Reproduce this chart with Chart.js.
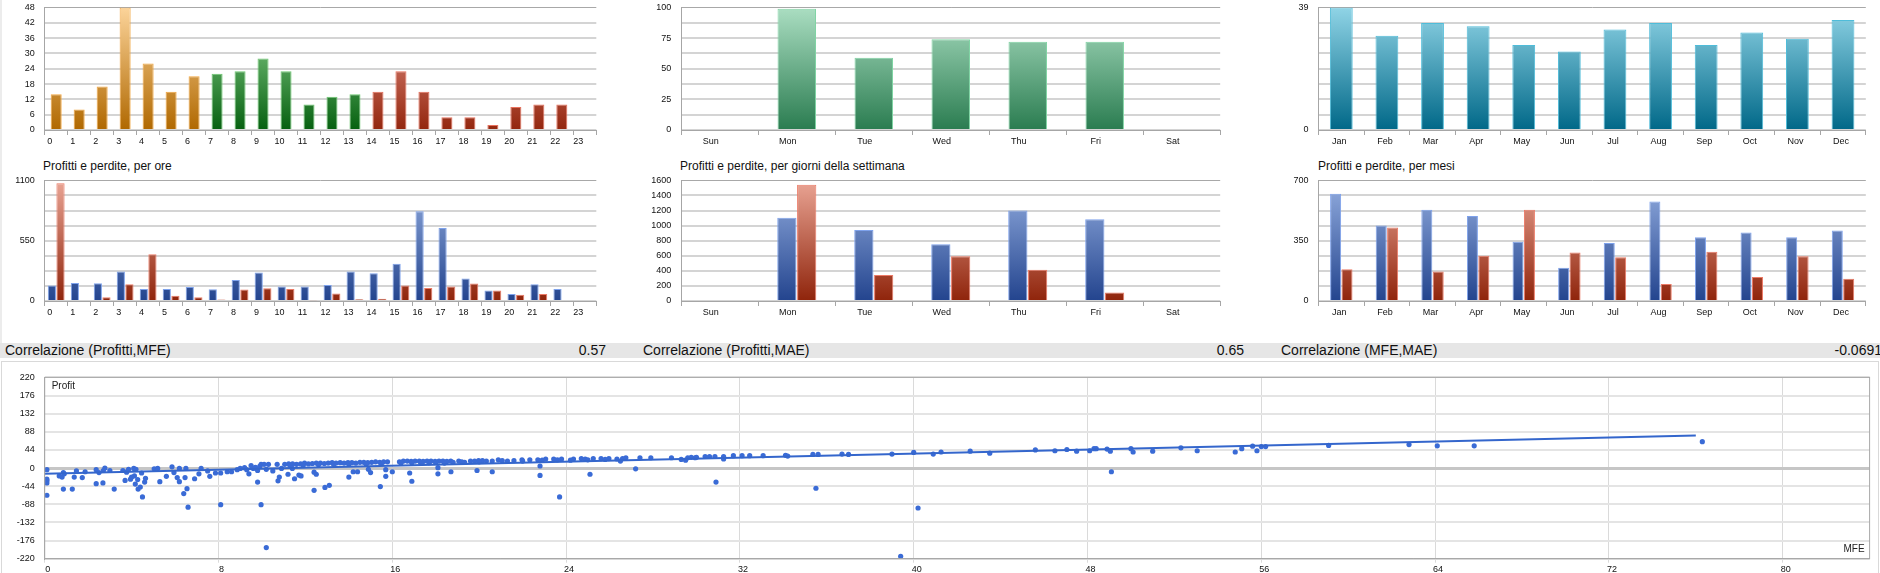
<!DOCTYPE html>
<html>
<head>
<meta charset="utf-8">
<script src="https://cdn.jsdelivr.net/npm/chart.js@4.4.0/dist/chart.umd.min.js"></script>
<style>
  html, body { margin: 0; padding: 0; background: #fff; overflow: hidden; }
  body { width: 1880px; height: 573px; position: relative; font-family: "Liberation Sans", Arial, sans-serif; }
  canvas { position: absolute; }
  .title { position: absolute; font-size: 12px; line-height: 14px; color: #111; white-space: nowrap; }
  #edge { position: absolute; left: 0; top: 0; width: 2px; height: 343px; background: #ececec; }
  #strip { position: absolute; left: 0; top: 343px; width: 1880px; height: 15px; background: #e6e6e6; }
  .cell { position: absolute; top: 0; height: 15px; line-height: 15px; font-size: 14px; color: #111; white-space: nowrap; }
  #box { position: absolute; left: 1px; top: 361px; width: 1876px; height: 240px; border: 1px solid #d9d9d9; }
</style>
</head>
<body>
<div id="edge"></div>
<canvas id="hourTradesChart"></canvas>
<canvas id="dayTradesChart"></canvas>
<canvas id="monthTradesChart"></canvas>
<div class="title" style="left:43px;top:159px">Profitti e perdite, per ore</div>
<div class="title" style="left:680px;top:159px">Profitti e perdite, per giorni della settimana</div>
<div class="title" style="left:1318px;top:159px">Profitti e perdite, per mesi</div>
<canvas id="hourPLChart"></canvas>
<canvas id="dayPLChart"></canvas>
<canvas id="monthPLChart"></canvas>
<div id="strip"></div>
<div id="box"></div>
<canvas id="scatterChart"></canvas>
<script>
// categories
const hourLabels = ['0','1','2','3','4','5','6','7','8','9','10','11','12','13','14','15','16','17','18','19','20','21','22','23'];
const dayLabels = ['Sun','Mon','Tue','Wed','Thu','Fri','Sat'];
const monthLabels = ['Jan','Feb','Mar','Apr','May','Jun','Jul','Aug','Sep','Oct','Nov','Dec'];

// number of trades
const hourTrades = [14, 8, 17, 48, 26, 15, 21, 22, 23, 28, 23, 10, 13, 14, 15, 23, 15, 5, 5, 2, 9, 10, 10, null];
const dayTrades = [null, 99, 59, 74, 72, 72, null];
const monthTrades = [39, 30, 34, 33, 27, 25, 32, 34, 27, 31, 29, 35];

// profitti / perdite
const hourProfit = [142, 165, 162, 269, 110, 110, 127, 107, 191, 261, 133, 133, 145, 269, 252, 339, 819, 666, 206, 96, 64, 153, 110, null];
const hourLoss = [1074, null, 35, 153, 426, 49, 35, 14, 104, 116, 110, 6, 69, 17, 20, 142, 119, 133, 159, 96, 58, 64, null, null];
const dayProfit = [null, 1103, 943, 754, 1200, 1086, null];
const dayLoss = [null, 1541, 345, 594, 413, 114, null];
const monthProfit = [623, 438, 529, 494, 344, 193, 337, 578, 370, 398, 370, 409];
const monthLoss = [184, 427, 171, 262, 529, 282, 254, 98, 286, 140, 260, 129];

// tick labels shown on the value axes
const hourTradeTicks = [0, 6, 12, 18, 24, 30, 36, 42, 48];
const dayTradeTicks = [0, 25, 50, 75, 100];
const monthTradeTicks = [0, 39];
const hourPLTicks = [0, 550, 1100];
const dayPLTicks = [0, 200, 400, 600, 800, 1000, 1200, 1400, 1600];
const monthPLTicks = [0, 350, 700];
const profitTicks = [-220, -176, -132, -88, -44, 0, 44, 88, 132, 176, 220];
const mfeTicks = [0, 8, 16, 24, 32, 40, 48, 56, 64, 72, 80];

// correlazioni
const corrLabels = ['Correlazione (Profitti,MFE)', 'Correlazione (Profitti,MAE)', 'Correlazione (MFE,MAE)'];
const corrValues = ['0.57', '0.65', '-0.0691'];

// scatter: MFE vs Profit
const mfeValues = [
  0.1, 0.1, 0.1, 0.1, 0.1, 0.67, 0.8, 0.86, 0.9, 0.86, 1.27, 1.46, 1.36, 1.73, 1.86,
  2.37, 2.37, 2.5, 2.68, 2.7, 2.77, 3, 3.2, 3.6, 3.7, 3.77, 3.86, 3.95, 4, 4.1, 4.13, 4.17, 4.2, 4.28, 4.3, 4.4, 4.46, 4.5, 4.6, 4.64,
  5.04, 5.2, 5.3, 5.6, 5.86, 5.95, 6.1, 6.2, 6.2, 6.4, 6.46, 6.5, 6.55, 6.6, 6.9, 7.2, 7.1, 7.6, 7.5,
  7.86, 8.1, 8.1, 8.4, 8.6, 8.86, 9, 9.2, 9.3, 9.4, 9.5, 9.6, 9.7, 9.8, 9.8, 9.9, 9.96, 9.96, 10.1, 10.2, 10.2, 10.3, 10.5, 10.7, 10.74, 10.8,
  11.05, 11.23, 11.41, 11.59, 11.78, 11.96, 12.14, 12.32, 12.5, 12.69, 12.87, 13.05, 13.23, 13.41, 13.6, 13.78, 13.96, 14.14, 14.32, 14.51, 14.69, 14.87, 15.05, 15.23, 15.42, 15.6, 15.78,
  11.3, 11.9, 12.6, 13.3, 14.0, 14.8, 15.5,
  11.2, 11.5, 11.7, 11.8, 12.4, 12.4, 12.5, 12.9, 13.1, 14, 14.2, 14.4, 14.9, 15, 15.45, 15.7, 15.7, 16, 11.4, 10.9,
  16.33, 16.51, 16.69, 16.87, 17.05, 17.24, 17.42, 17.6, 17.78, 17.97, 18.15, 18.33, 18.51, 18.69, 19.06, 19.33, 19.6, 19.79, 19.97, 20.15, 20.33, 20.88, 21.06, 21.6, 21.97, 22.33, 22.7, 23.06, 23.43, 23.79, 24.34, 24.7, 24.88, 25.25, 25.61, 25.97, 26.34,
  16.4, 16.9, 17.3, 17.7, 18.0, 18.4, 18.8, 19.2, 20.0, 20.6, 21.3, 22.0, 22.9, 23.6, 24.2, 25.0, 25.8,
  16.8, 16.9, 18.1, 18.1, 18.7, 19.9, 20.6, 22.8, 22.8, 23.7, 25.1,
  26.5, 26.6, 26.75, 27.2, 27.4, 27.9, 28.85, 29.3, 29.5, 29.6, 29.76, 29.94, 30, 30.4, 30.6, 30.85, 30.9, 31.25, 31.25, 31.7, 32.1, 32.45, 33.07, 34.1, 34.2,
  35.36, 35.5, 35.6, 36.7, 37, 39, 39.4, 40, 40.2, 40.9, 41.26, 42.6, 43.5, 45.6, 46.5, 47.05, 47.5, 48.1, 48.3, 48.4, 48.9, 49.1, 49.05, 50, 50.1, 51, 52.3, 53.05, 54.8,
  55.1, 55.6, 55.8, 56, 56.2, 59.1, 62.8, 64.1, 65.8, 76.3
];
const profitValues = [
  -4, -31, -36, -66, -27, -19, -22, -11, -14, -51, -51, -7, -22, -23, -9,
  -4, -38, -11, -36, -6, 0, -6, -51, -6, -30, -10, -3, -27, -22, -1, -19, -39, -3, -28, -51, -46, -12, -70, -34, -25,
  -2, -1, -33, -20, 3, -11, -23, -1, -33, -62, -23, -1, -50, -95, -26, -1, -14, -20, -7,
  -12, -89, -12, -9, -9, -4, -1, 1, -4, -14, 6, -1, 2, -34, -6, 4, 9, -89, 9, -3, -193, 9, -7, 9, -31, -22,
  9, 10, 10, 9, 10, 12, 10, 11, 12, 12, 11, 12, 13, 12, 13, 12, 13, 13, 12, 14, 14, 13, 14, 15, 14, 15, 15,
  6, 7, 8, 9, 9, 10, 11,
  -15, -26, -17, -19, -10, -54, -15, -47, -42, -22, -9, -9, -3, -11, -45, -20, -4, -9, -1, -1,
  15, 17, 17, 16, 17, 17, 16, 17, 17, 16, 17, 17, 16, 17, 17, 14, 17, 17, 18, 18, 17, 20, 18, 18, 20, 20, 20, 22, 22, 22, 22, 23, 22, 23, 23, 23, 22,
  12, 13, 14, 13, 14, 12, 14, 15, 15, 17, 17, 17, 19, 20, 19, 20, 21,
  -12, -32, -14, 1, -9, -6, -9, -18, 5, -70, -15,
  17, 23, 25, -2, 25, 25, 25, 21, 19, 25, 26, 25, 26, 28, 28, 28, -34, 28, 22, 30, 30, 30, 30, 31, 29,
  33, -49, 33, 34, 33, 34, -214, 38, -97, 34, 39, 41, 36, 44, 42, 45, 41, 42, 47, 47, 46, -9, 41, 47, 39, 41, 49, 42, 39,
  47, 53, 42, 52, 52, 55, 57, 54, 54, 64
];
// trend line end points
const trendX = [0, 76];
const trendY = [-14, 78.7];

Chart.defaults.font.family = '"Liberation Sans", Arial, sans-serif';
Chart.defaults.font.size = 9;
Chart.defaults.color = '#111';

// [top, bottom, border]
const ORANGE = ['#fcd49a', '#b06800', '#f2a640'];
const GREEN = ['#95dc96', '#066010', '#6cc870'];
const RED = ['#ef9f94', '#93260e', '#e8705c'];
const MINT = ['#abdec2', '#2a7c50', '#80d4a4'];
const TEAL = ['#90d4e6', '#006888', '#4fbcd9'];
const BLUE = ['#94aee0', '#23448e', '#7ea2ec'];
const LOSS = ['#eaa595', '#8f240b', '#ec7a66'];

function vgrad(c, top, bottom) {
  const a = c.chart.chartArea;
  if (!a) return bottom;
  const g = c.chart.ctx.createLinearGradient(0, a.top, 0, a.bottom);
  g.addColorStop(0, top);
  g.addColorStop(1, bottom);
  return g;
}

// box = canvas [left, top, width, height], plot = plot area [left, top, right, bottom] in page px
function place(id, box, plot) {
  const cv = document.getElementById(id);
  cv.width = box[2];
  cv.height = box[3];
  cv.style.left = box[0] + 'px';
  cv.style.top = box[1] + 'px';
  return {
    padding: { left: 0, top: plot[1] - box[1], right: box[0] + box[2] - plot[2], bottom: 0 },
    yWidth: plot[0] - box[0],
    xHeight: box[1] + box[3] - plot[3]
  };
}

function barOptions(fit, shown, step, labelOffset) {
  const max = shown[shown.length - 1];
  return {
    responsive: false,
    animation: false,
    layout: { padding: fit.padding },
    plugins: { legend: { display: false }, tooltip: { enabled: false } },
    scales: {
      x: {
        afterFit: s => { s.height = fit.xHeight; },
        grid: { offset: true, drawOnChartArea: false, color: '#a6a6a6', tickLength: 5 },
        border: { color: '#a6a6a6' },
        ticks: { labelOffset: labelOffset, padding: 1, maxRotation: 0, autoSkip: false }
      },
      y: {
        min: 0,
        max: max,
        afterFit: s => { s.width = fit.yWidth; },
        grid: {
          drawTicks: false,
          color: c => c.tick.value === max ? '#a8a8a8' : '#d4d4d4',
          lineWidth: c => c.tick.value === max ? 1 : 2
        },
        border: { color: '#a6a6a6' },
        ticks: { stepSize: step, padding: 10, callback: v => shown.includes(v) ? v : '' }
      }
    }
  };
}

function single(pal, barPct) {
  return {
    backgroundColor: c => vgrad(c, pal[0], pal[1]),
    borderColor: pal[2],
    borderWidth: 1,
    categoryPercentage: 1,
    barPercentage: barPct
  };
}

function hourPalette(i) {
  if (i < 7) return ORANGE;
  if (i < 14) return GREEN;
  return RED;
}

// row 1: numero di operazioni
let fit = place('hourTradesChart', [0, -8, 605, 160], [44.7, 3.3, 596.3, 130]);
new Chart('hourTradesChart', {
  type: 'bar',
  data: {
    labels: hourLabels,
    datasets: [{
      data: hourTrades,
      backgroundColor: c => { const p = hourPalette(c.dataIndex); return vgrad(c, p[0], p[1]); },
      borderColor: c => hourPalette(c.dataIndex)[2],
      borderWidth: 1,
      categoryPercentage: 1,
      barPercentage: 0.48
    }]
  },
  options: barOptions(fit, hourTradeTicks, 6, -6.5)
});

fit = place('dayTradesChart', [625, -8, 605, 160], [681.3, 3.3, 1220.2, 130]);
new Chart('dayTradesChart', {
  type: 'bar',
  data: { labels: dayLabels, datasets: [Object.assign({ data: dayTrades }, single(MINT, 0.5))] },
  options: barOptions(fit, dayTradeTicks, 12.5, -9)
});

fit = place('monthTradesChart', [1262, -8, 613, 160], [1318.5, 3.3, 1865.8, 130]);
new Chart('monthTradesChart', {
  type: 'bar',
  data: { labels: monthLabels, datasets: [Object.assign({ data: monthTrades }, single(TEAL, 0.5))] },
  options: barOptions(fit, monthTradeTicks, 4.875, -2)
});

// row 2: profitti e perdite
function pair(profit, loss, catPct, barPct) {
  return [
    { data: profit, backgroundColor: c => vgrad(c, BLUE[0], BLUE[1]), borderColor: BLUE[2], borderWidth: 1, categoryPercentage: catPct, barPercentage: barPct },
    { data: loss, backgroundColor: c => vgrad(c, LOSS[0], LOSS[1]), borderColor: LOSS[2], borderWidth: 1, categoryPercentage: catPct, barPercentage: barPct }
  ];
}

fit = place('hourPLChart', [0, 165, 605, 160], [44.7, 174.3, 596.3, 301]);
new Chart('hourPLChart', {
  type: 'bar',
  data: { labels: hourLabels, datasets: pair(hourProfit, hourLoss, 0.75, 0.95) },
  options: barOptions(fit, hourPLTicks, 137.5, -6.5)
});

fit = place('dayPLChart', [625, 165, 605, 160], [681.3, 174.3, 1220.2, 301]);
new Chart('dayPLChart', {
  type: 'bar',
  data: { labels: dayLabels, datasets: pair(dayProfit, dayLoss, 0.515, 0.97) },
  options: barOptions(fit, dayPLTicks, 200, -9)
});

fit = place('monthPLChart', [1262, 165, 613, 160], [1318.5, 174.3, 1865.8, 301]);
new Chart('monthPLChart', {
  type: 'bar',
  data: { labels: monthLabels, datasets: pair(monthProfit, monthLoss, 0.5, 0.965) },
  options: barOptions(fit, monthPLTicks, 87.5, -2)
});

// correlation strip
const strip = document.getElementById('strip');
corrLabels.forEach((txt, i) => {
  const l = document.createElement('div');
  l.className = 'cell';
  l.style.left = (5 + i * 638) + 'px';
  l.textContent = txt;
  strip.appendChild(l);
  const v = document.createElement('div');
  v.className = 'cell';
  v.style.right = (1880 - (606 + i * 638)) + 'px';
  v.textContent = corrValues[i];
  strip.appendChild(v);
});

// scatter MFE / Profit
const scatterFrame = {
  id: 'scatterFrame',
  afterDraw(chart) {
    const a = chart.chartArea, ctx = chart.ctx;
    ctx.save();
    ctx.strokeStyle = '#a8a8a8';
    ctx.lineWidth = 1;
    ctx.strokeRect(a.left, a.top, a.right - a.left, a.bottom - a.top);
    ctx.fillStyle = '#222';
    ctx.font = '10px "Liberation Sans", Arial, sans-serif';
    ctx.textBaseline = 'middle';
    ctx.textAlign = 'left';
    ctx.fillText('Profit', a.left + 7, a.top + 9);
    ctx.textAlign = 'right';
    ctx.fillText('MFE', a.right - 5, a.bottom - 9);
    ctx.restore();
  }
};

fit = place('scatterChart', [0, 362, 1880, 220], [44.7, 375.7, 1869.6, 558.7]);
new Chart('scatterChart', {
  type: 'scatter',
  data: {
    datasets: [
      {
        type: 'line',
        data: trendX.map((x, i) => ({ x: x, y: trendY[i] })),
        borderColor: '#3466cc',
        borderWidth: 2,
        pointRadius: 0,
        order: 0
      },
      {
        data: mfeValues.map((x, i) => ({ x: x, y: profitValues[i] })),
        backgroundColor: '#3a6bd6',
        borderWidth: 0,
        pointRadius: 2.6,
        order: 1
      }
    ]
  },
  options: {
    responsive: false,
    animation: false,
    layout: { padding: fit.padding },
    plugins: { legend: { display: false }, tooltip: { enabled: false } },
    scales: {
      x: {
        type: 'linear',
        min: 0,
        max: 84,
        afterFit: s => { s.height = fit.xHeight; },
        grid: { color: '#dadada', lineWidth: 1, tickLength: 4 },
        border: { color: '#a8a8a8' },
        ticks: {
          stepSize: 8, includeBounds: false, maxTicksLimit: 20, padding: 1, labelOffset: 3,
          callback: v => mfeTicks.includes(v) ? v : ''
        }
      },
      y: {
        min: profitTicks[0],
        max: profitTicks[profitTicks.length - 1],
        afterFit: s => { s.width = fit.yWidth; },
        grid: {
          drawTicks: false,
          color: c => c.tick.value === 0 ? '#c6c6c6' : '#e4e4e4',
          lineWidth: c => c.tick.value === 0 ? 3 : 2
        },
        border: { color: '#a8a8a8' },
        ticks: { stepSize: 44, padding: 10, callback: v => profitTicks.includes(v) ? v : '' }
      }
    }
  },
  plugins: [scatterFrame]
});
</script>
</body>
</html>
